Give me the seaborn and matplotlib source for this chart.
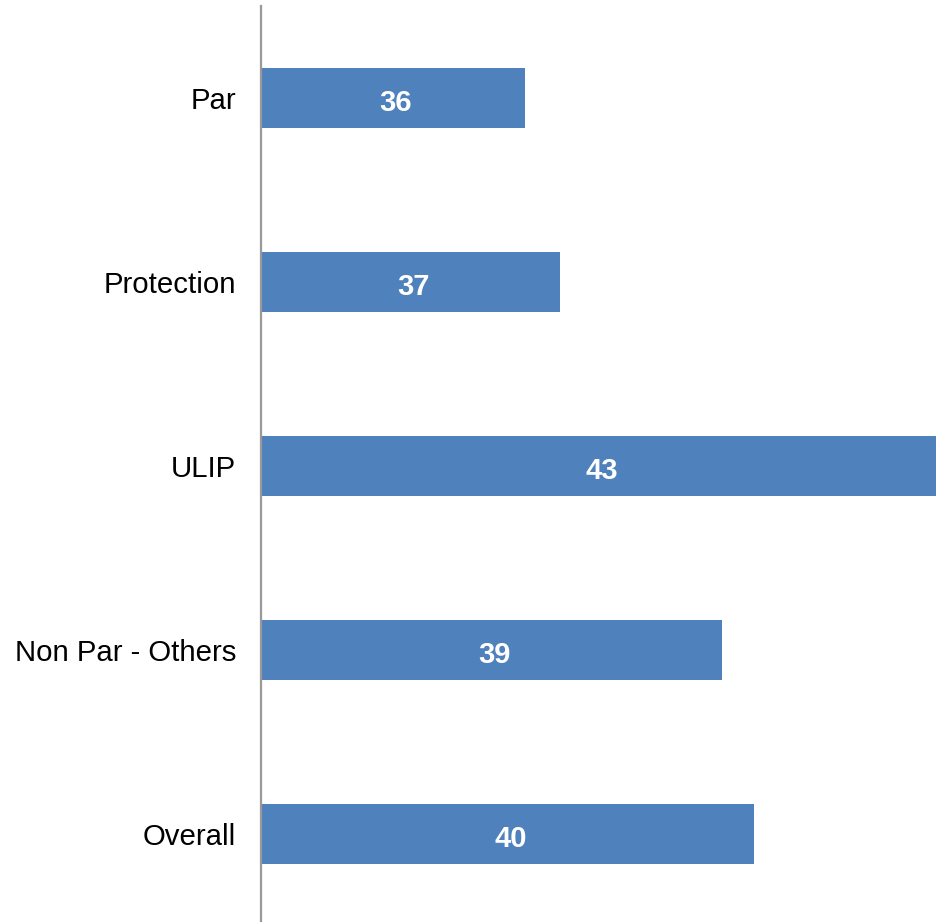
import numpy as np
import pandas as pd
import matplotlib
matplotlib.use("Agg")
import matplotlib.pyplot as plt
import seaborn as sns

categories = ["Par", "Protection", "ULIP", "Non Par - Others", "Overall"]
values = [36.0, 36.6, 43.0, 39.35, 39.9]
labels = ["36", "37", "43", "39", "40"]

data = pd.DataFrame({"segment": categories, "value": values})

sns.set_style("white")
plt.rcParams["font.family"] = ["Liberation Sans", "DejaVu Sans"]

fig = plt.figure(figsize=(9.36, 9.22), dpi=100)
ax = fig.add_axes([261 / 936, 0, 1 - 261 / 936, 916 / 922])

sns.barplot(data=data, x="value", y="segment", orient="h", color="#4F81BD",
            saturation=1, width=0.326, linewidth=0, ax=ax)

xmin = 31.5
ax.set_xlim(xmin, 43.0)
ax.set_ylim(4.478, -0.5)

for i, (v, lab) in enumerate(zip(values, labels)):
    ax.text((xmin + v) / 2 + 0.05, i + 0.025, lab, color="white", fontsize=21,
            fontweight="bold", ha="center", va="center")

ax.set_xlabel("")
ax.set_ylabel("")
ax.set_xticks([])
ax.tick_params(axis="y", length=0, pad=18, labelsize=21.2, labelcolor="black")
for lbl in ax.get_yticklabels():
    lbl.set_y(lbl.get_position()[1])
    lbl.set_verticalalignment("center_baseline")
for s in ["top", "right", "bottom"]:
    ax.spines[s].set_visible(False)
ax.spines["left"].set_color("#999999")
ax.spines["left"].set_linewidth(1.6)

fig.savefig("out.png", dpi=100)
